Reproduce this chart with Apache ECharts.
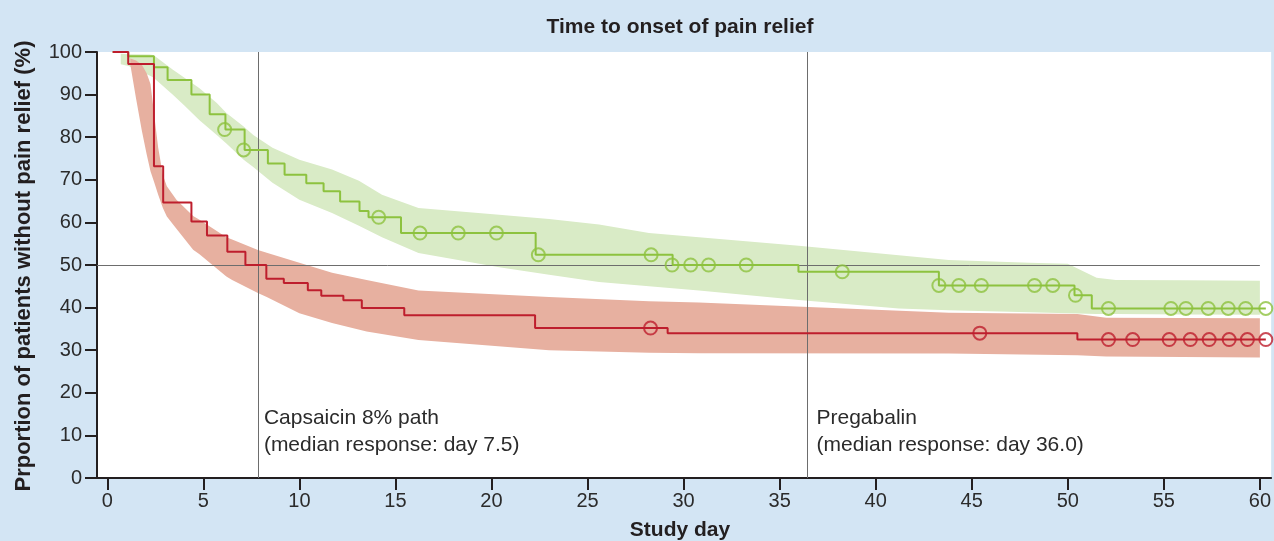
<!DOCTYPE html>
<html><head><meta charset="utf-8">
<script src="https://cdn.jsdelivr.net/npm/echarts@6/dist/echarts.min.js"></script>
<style>html,body{margin:0;padding:0;background:#d3e5f4;overflow:hidden;} #c{width:1274px;height:541px;}</style>
</head><body><div id="c"></div>
<script>
// ---- data ----
const xTicks = [0, 5, 10, 15, 20, 25, 30, 35, 40, 45, 50, 55, 60];
const yTicks = [0, 10, 20, 30, 40, 50, 60, 70, 80, 90, 100];

// Capsaicin 8% patch (red) Kaplan-Meier steps
const capDays = [0.28, 1.09, 2.43, 2.91, 4.38, 5.19, 6.25, 7.19, 8.28, 9.19, 10.44, 11.14, 12.29, 13.25, 15.46, 22.27, 29.17, 50.5, 60.31];
const capVals = [100, 97.2, 73.2, 64.7, 60.2, 56.9, 53.1, 50.0, 46.8, 45.8, 44.1, 42.8, 41.7, 39.9, 38.2, 35.2, 34.0, 32.5, 32.5];
// Pregabalin (green) Kaplan-Meier steps
const pregDays = [0.28, 1.09, 2.43, 3.14, 4.38, 5.33, 6.15, 7.15, 8.36, 9.23, 10.36, 11.26, 12.12, 13.13, 13.6, 15.29, 22.30, 29.43, 35.98, 43.29, 50.35, 51.25, 60.31];
const pregVals = [100, 99.0, 96.4, 93.4, 90.0, 85.4, 81.8, 77.0, 73.8, 71.2, 69.2, 67.3, 64.9, 62.7, 61.2, 57.5, 52.4, 50.0, 48.4, 45.2, 42.9, 39.8, 39.8];

// censored observations
const capCensorDays = [28.28, 45.42, 52.12, 53.38, 55.28, 56.38, 57.36, 58.4, 59.35, 60.31];
const capCensorVals = [35.2, 34.0, 32.5, 32.5, 32.5, 32.5, 32.5, 32.5, 32.5, 32.5];
const pregCensorDays = [6.11, 7.1, 14.13, 16.28, 18.27, 20.26, 22.44, 28.31, 29.4, 30.37, 31.3, 33.26, 38.26, 43.29, 44.33, 45.5, 48.27, 49.22, 50.4, 52.12, 55.37, 56.15, 57.31, 58.35, 59.26, 60.31];
const pregCensorVals = [81.8, 77.0, 61.2, 57.5, 57.5, 57.5, 52.4, 52.4, 50, 50, 50, 50, 48.4, 45.2, 45.2, 45.2, 45.2, 45.2, 42.9, 39.8, 39.8, 39.8, 39.8, 39.8, 39.8, 39.8];

// confidence bands
const capBandDays  = [1.2, 1.5, 1.8, 2.05, 2.25, 2.45, 2.65, 2.9, 3.1, 3.6, 4.47, 4.8, 6.2, 6.5, 7.84, 8.3, 10.0, 11.7, 13.5, 16.2, 23, 28.2, 30.8, 43.8, 50.5, 52, 60];
const capBandLower = [97, 89, 81.5, 76, 72, 69.3, 66.5, 63.3, 61.4, 58.5, 53.6, 52.5, 47.3, 46.5, 43.4, 42.5, 38.7, 36.4, 34.4, 32.4, 30, 29.4, 29.3, 29.2, 28.8, 28.5, 28.3];
const capBandUpper = [98.5, 98, 97, 95, 92.5, 85, 77.5, 71, 68.5, 65.3, 61.5, 60.6, 56.5, 56, 53.5, 52.9, 50.5, 48.2, 46.5, 44, 42.5, 41.5, 41.2, 38.8, 38.5, 37.6, 37.5];

const pregBandDays  = [0.7, 1.1, 2.2, 2.4, 3.4, 4.0, 4.8, 5.7, 6.2, 7.1, 7.6, 8.6, 10.0, 11.7, 13.1, 14.3, 16.2, 20.4, 23, 25.6, 28.2, 30.8, 36, 41.2, 43.8, 48, 50, 51.5, 52.5, 56, 60];
const pregBandLower = [97.1, 96.7, 94.5, 94, 90, 87.5, 84, 80.5, 78.5, 74.7, 73, 69.3, 65.3, 62.2, 59.2, 56.5, 52.8, 49.5, 47.7, 46.0, 45.0, 44.0, 41.8, 39.8, 39.4, 38.9, 38.7, 38.5, 38.5, 38.4, 38.3];
const pregBandUpper = [99.6, 99.5, 99.4, 99.3, 95.9, 94, 91.5, 88, 85.7, 82.5, 80.5, 77.5, 74.7, 72.4, 69.8, 66.5, 63.4, 61.8, 60.8, 59.5, 57.5, 56.5, 54.5, 52.3, 51.2, 50.5, 50.3, 47, 46.5, 46.4, 46.3];

// median response reference lines
const medianDays = [7.84, 36.45];
const medianLevel = 50;
const medianLabels = ['Capsaicin 8% path\n(median response: day 7.5)', 'Pregabalin\n(median response: day 36.0)'];
const labelLevel = 10.9;

// ---- chart ----
const RED = '#be1e2d', GREEN = '#8dc23f';
const RED_BAND = '#e7b0a0', GREEN_BAND = '#d9ebc6';
const FONT = 'Liberation Sans, Arial, Helvetica, sans-serif';
const X_MIN = -0.535, X_MAX = 60.587;
const LABEL_OFFSETS = [6, 9];

function bandSeries(days, lo, hi, color) {
  return {
    type: 'custom', coordinateSystem: 'cartesian2d', silent: true, z: 1,
    data: days.map((d, i) => [d, lo[i], hi[i]]),
    encode: { x: 0, y: [1, 2] },
    renderItem: function (params, api) {
      if (params.dataIndex !== 0) return null;
      const pts = [];
      for (let i = 0; i < days.length; i++) pts.push(api.coord([days[i], hi[i]]));
      for (let i = days.length - 1; i >= 0; i--) pts.push(api.coord([days[i], lo[i]]));
      return { type: 'polygon', shape: { points: pts }, style: { fill: color } };
    }
  };
}

const chart = echarts.init(document.getElementById('c'), null, { renderer: 'canvas' });
chart.setOption({
  animation: false,
  backgroundColor: '#d3e5f4',
  grid: { left: 97, right: 0, top: 52, bottom: 63, show: true, backgroundColor: '#ffffff', borderWidth: 0, borderColor: '#ffffff' },
  xAxis: {
    type: 'value', min: X_MIN, max: X_MAX,
    axisLine: { show: true, onZero: false, lineStyle: { color: '#231f20', width: 2 } },
    axisTick: { show: true, length: 12, customValues: xTicks, lineStyle: { color: '#231f20', width: 2 } },
    axisLabel: { customValues: xTicks, fontSize: 20, color: '#2b2b2b', fontFamily: FONT, margin: 13 },
    splitLine: { show: false }
  },
  yAxis: {
    type: 'value', min: 0, max: 100, interval: 10,
    axisLine: { show: true, onZero: false, lineStyle: { color: '#231f20', width: 2 } },
    axisTick: { show: true, length: 12, customValues: yTicks, lineStyle: { color: '#231f20', width: 2 } },
    axisLabel: { customValues: yTicks, fontSize: 20, color: '#2b2b2b', fontFamily: FONT, margin: 15 },
    splitLine: { show: false }
  },
  graphic: [
    { type: 'text', x: 680, y: 27, style: { text: 'Time to onset of pain relief', fill: '#231f20', fontSize: 21, fontWeight: 'bold', fontFamily: FONT, align: 'center', verticalAlign: 'middle' } },
    { type: 'text', x: 680, y: 530, style: { text: 'Study day', fill: '#231f20', fontSize: 21, fontWeight: 'bold', fontFamily: FONT, align: 'center', verticalAlign: 'middle' } },
    { type: 'text', x: 24, y: 266, rotation: Math.PI / 2, style: { text: 'Prportion of patients without pain relief (%)', fill: '#231f20', fontSize: 22, fontWeight: 'bold', fontFamily: FONT, align: 'center', verticalAlign: 'middle' } }
  ],
  series: [
    bandSeries(pregBandDays, pregBandLower, pregBandUpper, GREEN_BAND),
    bandSeries(capBandDays, capBandLower, capBandUpper, RED_BAND),
    {
      type: 'custom', coordinateSystem: 'cartesian2d', silent: true, z: 2,
      data: medianDays.map(d => [d]),
      encode: { x: 0 },
      renderItem: function (params, api) {
        const d = api.value(0);
        const p1 = api.coord([d, 0]), p2 = api.coord([d, 100]);
        const children = [{ type: 'line', shape: { x1: Math.round(p1[0]) + 0.5, y1: p1[1], x2: Math.round(p2[0]) + 0.5, y2: p2[1] }, style: { stroke: '#6d6d6d', lineWidth: 1 } }];
        if (params.dataIndex === 0) {
          const h1 = api.coord([X_MIN, medianLevel]), h2 = api.coord([60, medianLevel]);
          children.push({ type: 'line', shape: { x1: h1[0], y1: Math.round(h1[1]) + 0.5, x2: h2[0], y2: Math.round(h2[1]) + 0.5 }, style: { stroke: '#6d6d6d', lineWidth: 1 } });
        }
        return { type: 'group', children: children };
      }
    },
    {
      type: 'custom', coordinateSystem: 'cartesian2d', silent: true, z: 2, clip: false,
      data: medianDays.map(d => [d, labelLevel]),
      encode: { x: 0, y: 1 },
      renderItem: function (params, api) {
        const p = api.coord([api.value(0), api.value(1)]);
        return { type: 'text', x: p[0] + LABEL_OFFSETS[params.dataIndex], y: p[1], style: { text: medianLabels[params.dataIndex], fill: '#2b2b2b', fontSize: 21, fontFamily: FONT, align: 'left', verticalAlign: 'middle', lineHeight: 27 } };
      }
    },
    {
      name: 'Pregabalin', type: 'line', step: 'end', z: 3, showSymbol: false, silent: true,
      data: pregDays.map((d, i) => [d, pregVals[i]]),
      lineStyle: { color: GREEN, width: 2 }
    },
    {
      name: 'Capsaicin 8% patch', type: 'line', step: 'end', z: 4, showSymbol: false, silent: true,
      data: capDays.map((d, i) => [d, capVals[i]]),
      lineStyle: { color: RED, width: 2 }
    },
    {
      type: 'scatter', z: 5, silent: true, symbol: 'circle', symbolSize: 13,
      data: pregCensorDays.map((d, i) => [d, pregCensorVals[i]]),
      itemStyle: { color: 'rgba(0,0,0,0)', borderColor: GREEN, borderWidth: 2 }
    },
    {
      type: 'scatter', z: 5, silent: true, symbol: 'circle', symbolSize: 13,
      data: capCensorDays.map((d, i) => [d, capCensorVals[i]]),
      itemStyle: { color: 'rgba(0,0,0,0)', borderColor: RED, borderWidth: 2 }
    }
  ]
});
</script>
</body></html>
